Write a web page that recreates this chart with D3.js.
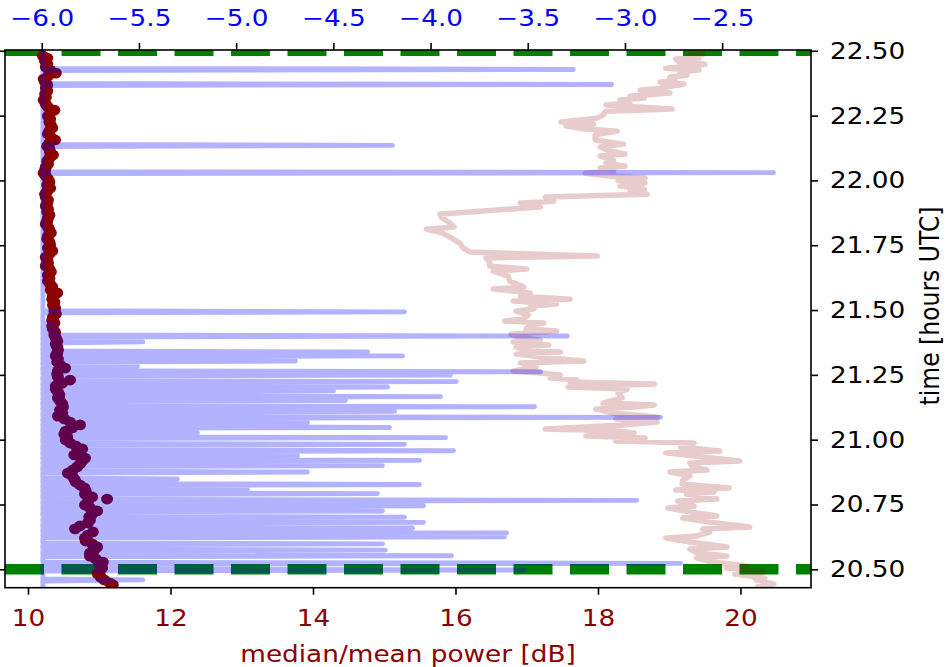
<!DOCTYPE html>
<html><head><meta charset="utf-8">
<script src="https://cdn.jsdelivr.net/npm/d3@7"></script>
<style>body{margin:0;background:#fff} text{font-family:"DejaVu Sans",sans-serif}</style>
</head><body><svg id="c" width="950" height="667"></svg>
<script>
// ---- data ----
const timeTicks = [20.5, 20.75, 21.0, 21.25, 21.5, 21.75, 22.0, 22.25, 22.5];
const dbTicks = [10, 12, 14, 16, 18, 20];
const ratioTicks = [-6.0, -5.5, -5.0, -4.5, -4.0, -3.5, -3.0, -2.5];
const markerTimes = [20.5, 22.5];
const xLabel = "median/mean power [dB]";
const yLabel = "time [hours UTC]";

// median power [dB] vs time (dark red dots)
const medianPoints = [
[22.480,10.21],[22.472,10.27],[22.460,10.24],[22.449,10.27],[22.437,10.25],[22.426,10.31],[22.414,10.39],[22.402,10.28],
[22.391,10.22],[22.379,10.24],[22.368,10.27],[22.356,10.25],[22.345,10.27],[22.333,10.24],[22.321,10.25],[22.310,10.22],
[22.294,10.25],[22.283,10.28],[22.271,10.37],[22.260,10.31],[22.248,10.28],[22.237,10.31],[22.225,10.30],[22.213,10.32],
[22.202,10.34],[22.190,10.30],[22.179,10.28],[22.167,10.32],[22.156,10.38],[22.144,10.30],[22.132,10.27],[22.121,10.30],
[22.109,10.31],[22.098,10.35],[22.086,10.30],[22.075,10.27],[22.063,10.28],[22.051,10.25],[22.040,10.24],[22.028,10.22],
[22.017,10.25],[22.005,10.28],[21.994,10.30],[21.982,10.27],[21.970,10.31],[21.959,10.27],[21.947,10.24],[21.936,10.25],
[21.924,10.28],[21.913,10.27],[21.901,10.25],[21.889,10.28],[21.878,10.27],[21.866,10.30],[21.855,10.28],[21.843,10.27],
[21.832,10.25],[21.820,10.28],[21.809,10.30],[21.797,10.32],[21.785,10.28],[21.774,10.27],[21.762,10.30],[21.751,10.31],
[21.739,10.28],[21.728,10.34],[21.716,10.30],[21.704,10.25],[21.693,10.27],[21.681,10.28],[21.670,10.25],[21.658,10.30],
[21.647,10.32],[21.635,10.28],[21.623,10.30],[21.612,10.28],[21.600,10.31],[21.589,10.34],[21.577,10.32],[21.566,10.41],
[21.554,10.35],[21.542,10.34],[21.531,10.37],[21.519,10.35],[21.508,10.38],[21.496,10.37],[21.485,10.39],[21.473,10.35],
[21.461,10.34],[21.450,10.37],[21.438,10.34],[21.427,10.35],[21.415,10.38],[21.404,10.37],[21.392,10.39],[21.380,10.41],
[21.369,10.39],[21.357,10.41],[21.346,10.42],[21.334,10.41],[21.323,10.39],[21.311,10.42],[21.300,10.41],[21.288,10.45],
[21.276,10.52],[21.265,10.42],[21.253,10.41],[21.242,10.42],[21.230,10.59],[21.218,10.48],[21.207,10.39],[21.195,10.39],
[21.184,10.42],[21.172,10.44],[21.161,10.42],[21.149,10.45],[21.138,10.48],[21.126,10.49],[21.114,10.45],[21.103,10.48],
[21.091,10.42],[21.080,10.51],[21.068,10.59],[21.057,10.73],[21.045,10.62],[21.033,10.53],[21.022,10.51],[21.010,10.55],
[20.999,10.53],[20.987,10.59],[20.976,10.67],[20.964,10.76],[20.952,10.70],[20.941,10.65],[20.929,10.80],[20.918,10.76],
[20.906,10.73],[20.895,10.69],[20.883,10.63],[20.871,10.56],[20.860,10.62],[20.848,10.65],[20.837,10.67],[20.825,10.73],
[20.814,10.79],[20.802,10.81],[20.790,10.80],[20.779,10.90],[20.771,11.11],[20.760,10.84],[20.748,10.80],[20.737,10.87],
[20.725,10.97],[20.713,10.90],[20.702,10.86],[20.690,10.87],[20.679,10.84],[20.667,10.73],[20.656,10.66],[20.644,10.91],
[20.632,10.84],[20.621,10.80],[20.609,10.81],[20.598,10.90],[20.586,10.97],[20.575,10.93],[20.563,10.87],[20.551,10.87],
[20.540,10.95],[20.528,11.05],[20.517,11.01],[20.505,11.04],[20.494,11.01],[20.482,10.98],[20.470,11.02],[20.459,11.07],
[20.447,11.15],[20.440,11.19]
];

// mean power [dB] vs time (faint dark red line)
const meanPoints = [
[20.432,20.25],[20.443,20.47],[20.459,20.22],[20.466,20.34],[20.482,19.92],[20.490,20.33],[20.505,19.80],[20.513,20.09],
[20.528,19.60],[20.544,19.38],[20.551,19.81],[20.563,19.39],[20.578,19.29],[20.586,19.81],[20.605,19.29],[20.621,18.95],
[20.628,19.39],[20.644,19.57],[20.655,19.47],[20.663,20.13],[20.682,19.57],[20.698,19.19],[20.706,19.67],[20.721,19.29],
[20.736,18.98],[20.744,19.35],[20.763,19.12],[20.771,19.67],[20.790,19.24],[20.798,19.63],[20.806,19.09],[20.814,19.84],
[20.829,19.18],[20.844,19.19],[20.860,19.29],[20.875,19.01],[20.883,19.53],[20.895,19.32],[20.910,19.29],[20.918,19.99],
[20.933,19.46],[20.949,18.95],[20.956,19.71],[20.972,19.16],[20.987,19.35],[20.995,18.25],[21.006,18.66],[21.014,17.83],
[21.026,18.51],[21.033,18.31],[21.041,17.26],[21.057,18.34],[21.068,18.83],[21.080,18.25],[21.087,18.83],[21.103,18.21],
[21.118,17.97],[21.126,18.51],[21.134,18.79],[21.141,18.07],[21.161,18.34],[21.180,18.28],[21.195,18.41],[21.203,17.58],
[21.215,18.79],[21.222,17.61],[21.230,17.71],[21.238,17.33],[21.249,17.47],[21.257,17.19],[21.265,16.81],[21.280,17.13],
[21.296,16.91],[21.303,17.80],[21.319,17.20],[21.330,16.85],[21.338,17.47],[21.346,16.98],[21.357,16.85],[21.365,17.31],
[21.377,16.81],[21.384,17.19],[21.396,16.88],[21.407,16.78],[21.419,17.42],[21.427,16.99],[21.442,17.05],[21.450,17.24],
[21.458,16.69],[21.465,16.96],[21.481,17.02],[21.496,16.85],[21.504,17.10],[21.515,17.05],[21.523,17.42],[21.535,16.81],
[21.542,17.61],[21.554,16.91],[21.566,17.05],[21.581,16.53],[21.589,16.96],[21.612,16.76],[21.631,16.74],[21.650,16.53],
[21.658,17.00],[21.670,16.48],[21.685,16.48],[21.701,16.43],[21.708,17.99],[21.724,16.20],[21.739,16.11],[21.758,16.06],
[21.778,15.94],[21.797,15.82],[21.812,15.59],[21.820,15.98],[21.836,15.92],[21.855,15.81],[21.870,15.78],[21.878,16.20],
[21.886,16.58],[21.897,17.19],[21.913,16.91],[21.920,17.38],[21.936,17.26],[21.947,18.69],[21.959,18.45],[21.967,18.65],
[21.978,18.31],[21.990,18.66],[22.001,18.28],[22.009,18.66],[22.017,18.17],[22.028,17.82],[22.036,18.22],[22.048,18.03],
[22.055,18.38],[22.067,18.11],[22.078,18.22],[22.094,18.03],[22.102,18.38],[22.117,18.14],[22.129,18.03],[22.140,18.36],
[22.156,17.96],[22.175,17.96],[22.190,18.27],[22.198,17.83],[22.210,17.55],[22.217,17.94],[22.225,17.48],[22.240,17.99],
[22.252,18.07],[22.267,18.11],[22.275,19.04],[22.291,18.11],[22.298,18.45],[22.310,18.31],[22.318,18.65],[22.325,18.45],
[22.337,19.01],[22.348,18.59],[22.356,18.87],[22.372,19.21],[22.379,18.87],[22.387,19.08],[22.399,19.01],[22.406,19.25],
[22.418,19.15],[22.426,19.42],[22.433,18.95],[22.441,19.35],[22.449,19.50],[22.456,19.15],[22.468,19.09],[22.472,19.42],
[22.483,19.29],[22.487,19.46]
];

// top-axis quantity vs time (faint blue line)
const ratioPoints = [
[20.430,-5.994],
[20.455,-5.994],[20.459,-5.480],[20.463,-5.994],
[20.493,-5.994],[20.497,-3.517],[20.501,-5.994],
[20.519,-5.994],[20.523,-2.714],[20.527,-5.994],
[20.548,-5.994],[20.552,-3.892],[20.556,-5.994],
[20.570,-5.994],[20.574,-4.232],[20.578,-5.994],
[20.594,-5.994],[20.598,-4.247],[20.602,-5.994],
[20.621,-5.994],[20.625,-3.620],[20.629,-5.994],
[20.636,-5.994],[20.640,-3.609],[20.644,-5.994],
[20.655,-5.994],[20.659,-4.093],[20.663,-5.994],
[20.677,-5.994],[20.681,-4.036],[20.685,-5.994],
[20.697,-5.994],[20.701,-4.134],[20.705,-5.994],
[20.721,-5.994],[20.725,-4.247],[20.729,-5.994],
[20.741,-5.994],[20.745,-4.036],[20.749,-5.994],
[20.762,-5.994],[20.766,-2.940],[20.770,-5.994],
[20.788,-5.994],[20.792,-4.273],[20.796,-5.994],
[20.806,-5.994],[20.810,-4.942],[20.814,-5.994],
[20.823,-5.994],[20.827,-4.057],[20.831,-5.994],
[20.844,-5.994],[20.848,-5.302],[20.852,-5.994],
[20.871,-5.994],[20.875,-4.633],[20.879,-5.994],
[20.896,-5.994],[20.900,-4.247],[20.904,-5.994],
[20.916,-5.994],[20.920,-4.057],[20.924,-5.994],
[20.933,-5.994],[20.937,-4.684],[20.941,-5.994],
[20.953,-5.994],[20.957,-3.882],[20.961,-5.994],
[20.978,-5.994],[20.982,-4.134],[20.986,-5.994],
[21.004,-5.994],[21.008,-3.923],[21.012,-5.994],
[21.022,-5.994],[21.026,-5.199],[21.030,-5.994],
[21.043,-5.994],[21.047,-4.211],[21.051,-5.994],
[21.062,-5.994],[21.066,-4.633],[21.070,-5.994],
[21.082,-5.994],[21.086,-2.817],[21.090,-5.994],
[21.105,-5.994],[21.109,-4.185],[21.113,-5.994],
[21.123,-5.994],[21.127,-3.465],[21.131,-5.994],
[21.147,-5.994],[21.151,-4.438],[21.155,-5.994],
[21.162,-5.994],[21.166,-3.949],[21.170,-5.994],
[21.184,-5.994],[21.188,-4.499],[21.192,-5.994],
[21.199,-5.994],[21.203,-4.221],[21.207,-5.994],
[21.220,-5.994],[21.224,-3.867],[21.228,-5.994],
[21.245,-5.994],[21.249,-3.897],[21.253,-5.994],
[21.258,-5.994],[21.262,-3.434],[21.266,-5.994],
[21.280,-5.994],[21.284,-5.507],[21.288,-5.994],
[21.299,-5.994],[21.303,-4.695],[21.307,-5.994],
[21.319,-5.994],[21.323,-4.144],[21.327,-5.994],
[21.334,-5.994],[21.338,-4.324],[21.342,-5.994],
[21.357,-5.994],[21.360,-5.900],[21.363,-5.994],
[21.373,-5.994],[21.377,-5.480],[21.381,-5.994],
[21.396,-5.994],[21.400,-3.296],[21.404,-5.994],
[21.420,-5.994],[21.423,-5.920],[21.426,-5.994],
[21.444,-5.994],[21.447,-5.930],[21.450,-5.994],
[21.489,-5.994],[21.493,-4.134],[21.497,-5.994],
[22.026,-5.994],[22.030,-2.236],[22.034,-5.994],
[22.131,-5.994],[22.135,-4.196],[22.139,-5.994],
[22.366,-5.994],[22.370,-3.069],[22.374,-5.994],
[22.424,-5.994],[22.428,-3.266],[22.432,-5.994],
[22.490,-5.994]
];

// ---- drawing ----
const svg = d3.select("#c");
svg.append("rect").attr("width", 950).attr("height", 667).attr("fill", "#fff");
const L = 5, R = 811, T = 50, B = 587.7;
const FS = 23.5, SX = 1.12;

const y = d3.scaleLinear().domain([20.429, 22.503]).range([B, T]);
const xDb = d3.scaleLinear().domain([9.677, 20.99]).range([L, R]);
const xRatio = d3.scaleLinear().domain([-6.189, -2.043]).range([L, R]);

svg.append("clipPath").attr("id", "plotclip")
  .append("rect").attr("x", L).attr("y", T).attr("width", R - L).attr("height", B - T);
const g = svg.append("g").attr("clip-path", "url(#plotclip)");

// green dashed time markers
g.selectAll("line.marker").data(markerTimes).enter().append("line")
  .attr("x1", L).attr("x2", R).attr("y1", d => y(d)).attr("y2", d => y(d))
  .attr("stroke", "#008000").attr("stroke-width", 10.5).attr("stroke-dasharray", "39,17.5");

// median dots
g.selectAll("ellipse").data(medianPoints).enter().append("ellipse")
  .attr("cx", d => xDb(d[1])).attr("cy", d => y(d[0])).attr("rx", 6).attr("ry", 5.4)
  .attr("fill", "#8b0000");

// mean line
g.append("path").datum(meanPoints)
  .attr("d", d3.line().x(d => xDb(d[1])).y(d => y(d[0])))
  .attr("fill", "none").attr("stroke", "#8b0000").attr("stroke-opacity", 0.2)
  .attr("stroke-width", 5.5).attr("stroke-linejoin", "round").attr("stroke-linecap", "square");

// blue line
g.append("path").datum(ratioPoints)
  .attr("d", d3.line().x(d => xRatio(d[1])).y(d => y(d[0])))
  .attr("fill", "none").attr("stroke", "#0000ff").attr("stroke-opacity", 0.3)
  .attr("stroke-width", 4.9).attr("stroke-linejoin", "round").attr("stroke-linecap", "square");

// frame
svg.append("rect").attr("x", L).attr("y", T).attr("width", R - L).attr("height", B - T)
  .attr("fill", "none").attr("stroke", "#000").attr("stroke-width", 1.6);

function styleAxis(sel, color) {
  sel.select(".domain").remove();
  sel.selectAll(".tick line").attr("stroke", "#000").attr("stroke-width", 1.6);
  sel.selectAll(".tick text").attr("fill", color).attr("font-size", FS)
    .attr("font-family", "DejaVu Sans, sans-serif")
    .each(function () {
      const t = d3.select(this);
      const xv = +t.attr("x") || 0, yv = +t.attr("y") || 0;
      t.attr("x", 0).attr("y", 0).attr("transform", `translate(${xv},${yv}) scale(${SX},1)`);
    });
}

// top axis
const axTop = svg.append("g").attr("transform", `translate(0,${T})`)
  .call(d3.axisTop(xRatio).tickValues(ratioTicks).tickFormat(d3.format(".1f")).tickSize(7).tickPadding(17));
styleAxis(axTop, "#0000ff");

// bottom axis
const axBot = svg.append("g").attr("transform", `translate(0,${B})`)
  .call(d3.axisBottom(xDb).tickValues(dbTicks).tickFormat(d3.format("d")).tickSize(7).tickPadding(15));
styleAxis(axBot, "#8b0000");

// right axis
const axRight = svg.append("g").attr("transform", `translate(${R},0)`)
  .call(d3.axisRight(y).tickValues(timeTicks).tickFormat(d3.format(".2f")).tickSize(7).tickPadding(12));
styleAxis(axRight, "#000");

// left ticks (no labels)
const axLeft = svg.append("g").attr("transform", `translate(${L},0)`)
  .call(d3.axisLeft(y).tickValues(timeTicks).tickFormat("").tickSize(7));
styleAxis(axLeft, "#000");

// axis labels
svg.append("text").attr("transform", `translate(${(L + R) / 2},661.5) scale(${SX},1)`)
  .attr("text-anchor", "middle").attr("fill", "#8b0000").attr("font-size", FS).text(xLabel);
svg.append("text").attr("transform", `translate(939,306) rotate(-90) scale(1,${SX})`)
  .attr("text-anchor", "middle").attr("fill", "#000").attr("font-size", FS).text(yLabel);
</script></body></html>
